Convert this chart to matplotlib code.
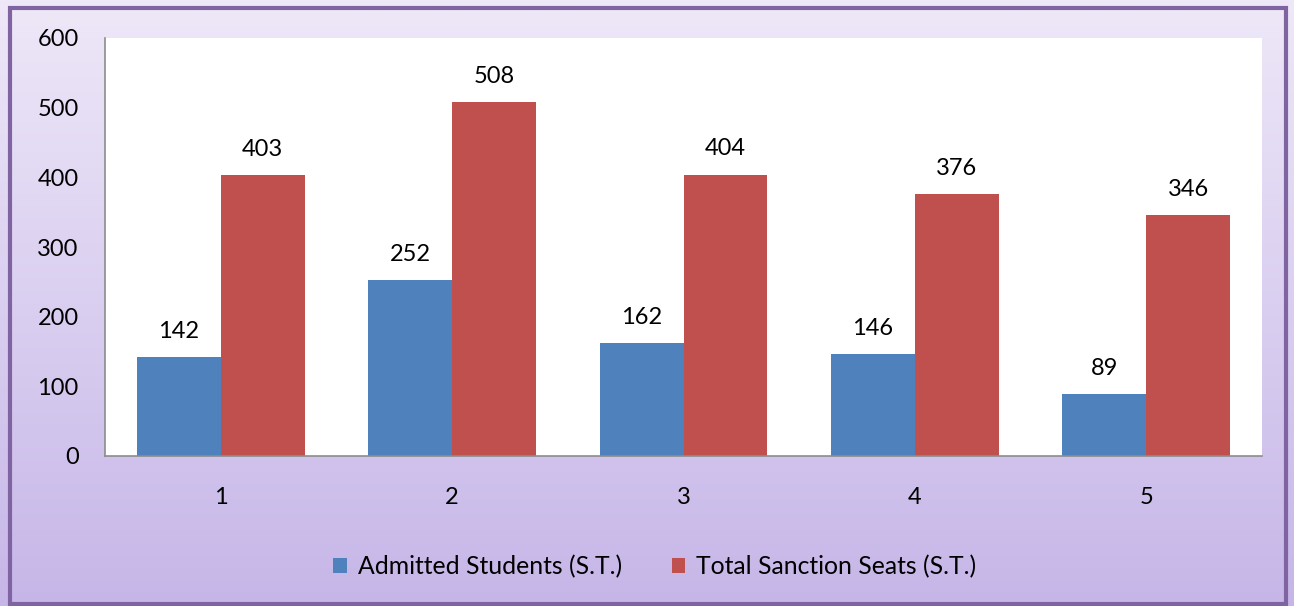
import matplotlib
matplotlib.use("Agg")
import matplotlib.pyplot as plt
import numpy as np
from matplotlib.patches import Rectangle

categories = ["1", "2", "3", "4", "5"]
admitted = [142, 252, 162, 146, 89]
sanction = [403, 508, 404, 376, 346]
series_names = ["Admitted Students (S.T.)", "Total Sanction Seats (S.T.)"]
yticks = [0, 100, 200, 300, 400, 500, 600]

plt.rcParams['font.family'] = ['Lato', 'DejaVu Sans']

W, H = 1294, 606
fig = plt.figure(figsize=(W/100, H/100), dpi=100)

# gradient background
bg = fig.add_axes([0, 0, 1, 1], zorder=-10)
top = np.array([238, 232, 248]) / 255
bot = np.array([198, 182, 232]) / 255
t = np.linspace(0, 1, 256)[:, None]
grad = top[None, :] * (1 - t) + bot[None, :] * t
bg.imshow(grad[:, None, :].repeat(2, axis=1), aspect='auto', extent=[0, 1, 0, 1], origin='upper')
bg.set_xlim(0, 1); bg.set_ylim(0, 1)
bg.axis('off')
bg.add_patch(Rectangle((10/W, 2/H), (1286-10)/W, (604-8)/H, fill=False,
                       edgecolor='#8064A2', linewidth=3, transform=bg.transAxes))

ax = fig.add_axes([105/W, 1 - 456/H, (1262-105)/W, (456-38)/H])
ax.set_facecolor('white')
x = np.arange(len(categories))
w = 0.363
b1 = ax.bar(x - w/2, admitted, w, color='#4F81BD', label=series_names[0])
b2 = ax.bar(x + w/2, sanction, w, color='#C0504D', label=series_names[1])
for bars, vals in ((b1, admitted), (b2, sanction)):
    for r, v in zip(bars, vals):
        ax.text(r.get_x() + r.get_width()/2, v + 22, str(v), ha='center', va='bottom', fontsize=17)

ax.set_xlim(-0.5, 4.5)
ax.set_ylim(0, 600)
ax.set_yticks(yticks)
ax.set_xticks(x)
ax.set_xticklabels(categories)
ax.tick_params(axis='both', length=0, labelsize=17)
ax.tick_params(axis='y', pad=19)
ax.tick_params(axis='x', pad=22)
for s in ('top', 'right'):
    ax.spines[s].set_visible(False)
for s in ('left', 'bottom'):
    ax.spines[s].set_color('#8C8C8C')
    ax.spines[s].set_linewidth(1.2)

fig.legend(handles=[b1, b2], loc='center', bbox_to_anchor=(655/W, 1 - 567/H), ncol=2,
           frameon=False, fontsize=17.8, handlelength=0.55, handleheight=0.55,
           columnspacing=2.0, handletextpad=0.45)

fig.savefig('out.png', dpi=100)
